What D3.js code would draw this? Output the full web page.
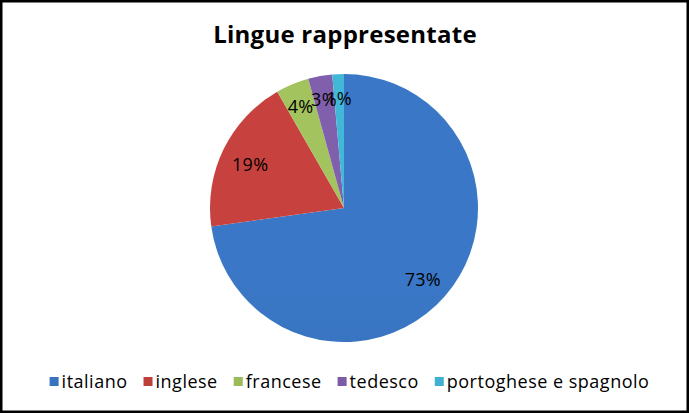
<!DOCTYPE html>
<html>
<head>
<meta charset="utf-8">
<script src="https://cdn.jsdelivr.net/npm/d3@7"></script>
<style>
  body { margin: 0; background: #fff; }
  text { font-family: "Open Sans", Lato, sans-serif; }
</style>
</head>
<body>
<div class="chart"></div>
<script>
// data
const languages = ["italiano", "inglese", "francese", "tedesco", "portoghese e spagnolo"];
const shares = [72.8, 18.9, 4.0, 2.9, 1.4];
const colors = ["#3873bf", "#bf3f3b", "#9bbb59", "#7b5ba5", "#3fb0d0"];
const title = "Lingue rappresentate";

let outWidth = 689, outHeight = 413;
let cx = 344, cy = 208, r = 134;

const svg = d3.select(".chart").append("svg")
  .attr("width", outWidth)
  .attr("height", outHeight);

// outer frame
svg.append("rect")
  .attr("x", 1.25).attr("y", 1.25)
  .attr("width", outWidth - 2.5).attr("height", outHeight - 2.5)
  .attr("fill", "#fff")
  .attr("stroke", "#000")
  .attr("stroke-width", 2.5);

svg.append("text")
  .attr("x", cx + 1)
  .attr("y", 43)
  .attr("text-anchor", "middle")
  .attr("font-size", 24)
  .attr("font-weight", "bold")
  .attr("letter-spacing", 0.25)
  .attr("fill", "#000")
  .text(title);

// gradients, a little lighter on top and darker below
const defs = svg.append("defs");
colors.forEach((c, i) => {
  const grad = defs.append("linearGradient")
    .attr("id", "g" + i)
    .attr("gradientUnits", "userSpaceOnUse")
    .attr("x1", 0).attr("y1", cy - r)
    .attr("x2", 0).attr("y2", cy + r);
  grad.append("stop").attr("offset", "0%").attr("stop-color", d3.color(c).brighter(0.12));
  grad.append("stop").attr("offset", "100%").attr("stop-color", d3.color(c).darker(0.3));
});

const pie = d3.pie().sort(null).value(d => d);
const arcs = pie(shares);
const arc = d3.arc().innerRadius(0).outerRadius(r);

const g = svg.append("g")
  .attr("transform", `translate(${cx}, ${cy})`);

g.selectAll("path")
  .data(arcs)
  .enter()
  .append("path")
  .attr("d", arc)
  .attr("fill", (d, i) => `url(#g${i})`);

// small slices get pushed a bit further out (they overlap in the original too)
g.selectAll("text")
  .data(arcs)
  .enter()
  .append("text")
  .attr("transform", d => {
    let lr = (d.endAngle - d.startAngle) > 0.6 ? r * 0.78 : r * 0.84;
    let pos = d3.arc().innerRadius(lr).outerRadius(lr).centroid(d);
    return `translate(${pos[0]}, ${pos[1]})`;
  })
  .attr("text-anchor", "middle")
  .attr("dy", "0.5em")
  .attr("font-size", 18)
  .attr("letter-spacing", 0.3)
  .attr("fill", "#000")
  .text(d => Math.round(d.data) + "%");

// legend
const legend = svg.append("g");
let lx = 0;
const items = legend.selectAll("g")
  .data(languages)
  .enter()
  .append("g");
items.append("rect")
  .attr("y", -11)
  .attr("width", 9)
  .attr("height", 9)
  .attr("fill", (d, i) => colors[i]);
items.append("text")
  .attr("x", 12)
  .attr("font-size", 18)
  .attr("letter-spacing", 0.5)
  .attr("fill", "#000")
  .text(d => d);
items.each(function() {
  const w = d3.select(this).select("text").node().getComputedTextLength();
  d3.select(this).attr("transform", `translate(${lx}, 0)`);
  lx += 12 + w + 16;
});
lx -= 16;
legend.attr("transform", `translate(${(outWidth - lx) / 2 + 5}, 388)`);
</script>
</body>
</html>
